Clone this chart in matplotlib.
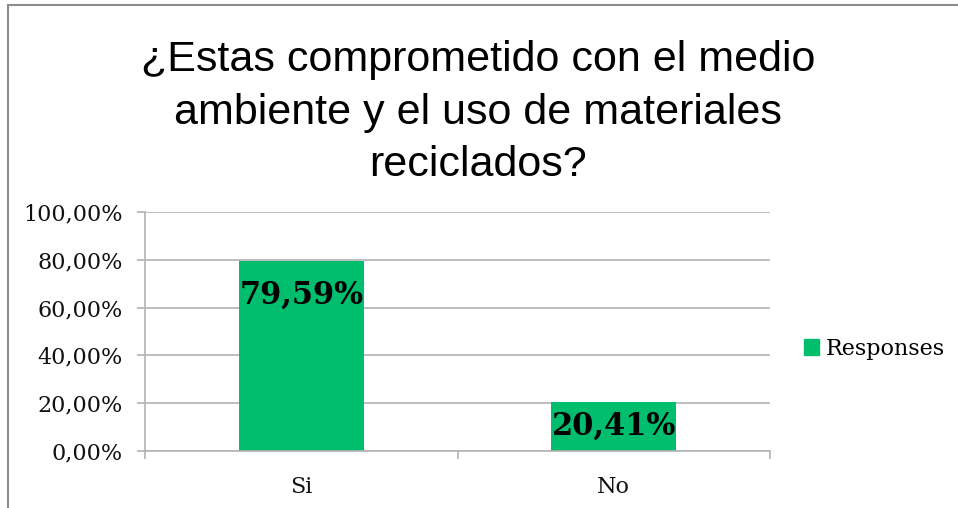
import matplotlib.pyplot as plt
from matplotlib.lines import Line2D
from matplotlib.patches import Patch
from matplotlib.ticker import FuncFormatter

TITLE = "¿Estas comprometido con el medio\nambiente y el uso de materiales\nreciclados?"
CATEGORIES = ["Si", "No"]
VALUES = [79.59, 20.41]
Y_TICKS = [0, 20, 40, 60, 80, 100]
SERIES_NAME = "Responses"

BAR_COLOR = "#00BE6E"
GRID_COLOR = "#B3B3B3"
SERIF = ["DejaVu Serif"]


def pct(v, _=None):
    return f"{v:.2f}%".replace(".", ",")


fig = plt.figure(figsize=(9.58, 5.08), dpi=100)
ax_rect = [0.1514, 0.1122, 0.6524, 0.4705]
ax = fig.add_axes(ax_rect)

x = list(range(len(CATEGORIES)))
bars = ax.bar(x, VALUES, width=0.4, color=BAR_COLOR, zorder=2)

ax.set_xlim(-0.5, len(CATEGORIES) - 0.5)
ax.set_ylim(0, 100)
ax.set_yticks(Y_TICKS)
ax.yaxis.set_major_formatter(FuncFormatter(pct))
ax.grid(axis="y", color=GRID_COLOR, linewidth=1.2, zorder=0)

ax.set_xticks(x)
ax.set_xticklabels(CATEGORIES)
ax.set_xticks([i - 0.5 for i in range(len(CATEGORIES) + 1)], minor=True)
ax.tick_params(axis="x", which="major", length=0, pad=18)
ax.tick_params(axis="x", which="minor", length=6, width=1.2, color=GRID_COLOR, direction="out")
ax.tick_params(axis="y", length=6, width=1.2, color=GRID_COLOR, direction="out", pad=10)

for lbl in ax.get_xticklabels() + ax.get_yticklabels():
    lbl.set_family(SERIF)
    lbl.set_fontsize(16)
    lbl.set_color("#111111")

for side in ["top", "right"]:
    ax.spines[side].set_visible(False)
for side in ["left", "bottom"]:
    ax.spines[side].set_color(GRID_COLOR)
    ax.spines[side].set_linewidth(1.2)

# data labels: near the top of tall bars, centred in short ones
axes_h_pt = ax_rect[3] * fig.get_figheight() * 72
for b, v in zip(bars, VALUES):
    half_pt = v / 100 * axes_h_pt / 2
    ax.annotate(pct(v), (b.get_x() + b.get_width() / 2, v),
                xytext=(0, -min(25, half_pt)), textcoords="offset points",
                ha="center", va="center", fontsize=22, fontweight="bold",
                family=SERIF, color="black", zorder=3)

fig.text(0.499, 0.778, TITLE, ha="center", va="center", fontsize=31,
         family="Liberation Sans", linespacing=1.4)

ax.legend(handles=[Patch(color=BAR_COLOR, label=SERIES_NAME)],
          loc="center left", bbox_to_anchor=(1.022, 0.427), frameon=False,
          prop={"family": SERIF, "size": 16},
          handlelength=0.7, handleheight=0.7, handletextpad=0.3)

# outer chart frame (only left and top edges visible in the crop)
fig.add_artist(Line2D([8 / 958, 8 / 958], [0, 1 - 5 / 508], color="#8C8C8C", linewidth=1.5))
fig.add_artist(Line2D([8 / 958, 1], [1 - 5 / 508, 1 - 5 / 508], color="#8C8C8C", linewidth=1.5))

fig.savefig("out.png", dpi=100)
